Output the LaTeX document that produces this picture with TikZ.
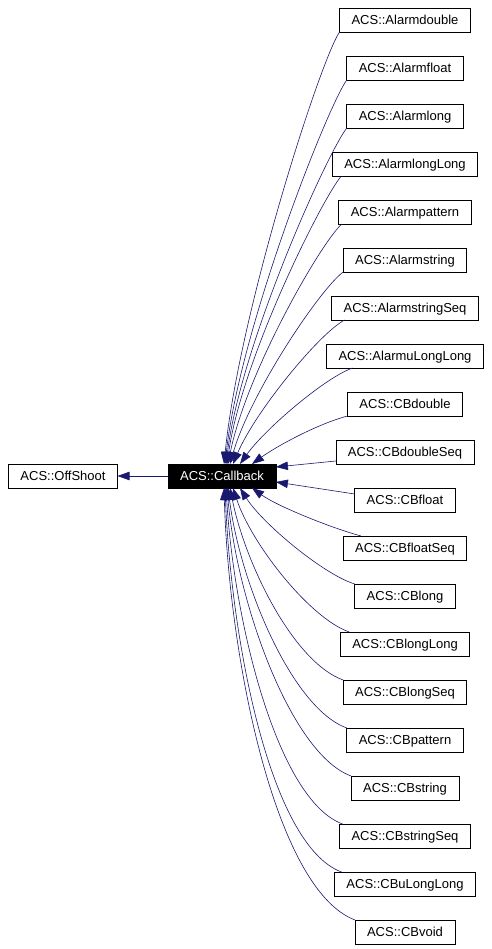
\documentclass[tikz,border=0pt]{standalone}
\usepackage{fontspec}
\setmainfont{Liberation Sans}
\usetikzlibrary{positioning, arrows.meta}
\definecolor{edgeblue}{RGB}{25,25,112}

\begin{document}
\begin{tikzpicture}[
                x=1pt, y=1pt,
                node distance=24pt,
                font=\fontsize{13pt}{15pt}\selectfont,
                cls/.style={
                  draw, line width=0.8pt, outer sep=0pt,
                  minimum height=24pt, inner xsep=12pt, inner ysep=0pt,
                  text height=11pt, text depth=1.5pt
                },
                base/.style={cls, fill=black, text=white},
                arrow/.style={draw=edgeblue, line width=0.6pt, -{Triangle[length=12pt,width=8.5pt]}}
              ]
              \useasboundingbox (0,0) rectangle (491,-949);

              \node (OS) [cls] at (63,-476) {ACS::OffShoot};
              \node (CB) [base] at (222,-476) {ACS::Callback};

              \node (AD) [cls] at (405,-20) {ACS::Alarmdouble};
              \node (AF) [cls, below=of AD] {ACS::Alarmfloat};
              \node (AL) [cls, below=of AF] {ACS::Alarmlong};
              \node (ALL) [cls, below=of AL] {ACS::AlarmlongLong};
              \node (AP) [cls, below=of ALL] {ACS::Alarmpattern};
              \node (AS) [cls, below=of AP] {ACS::Alarmstring};
              \node (ASS) [cls, below=of AS] {ACS::AlarmstringSeq};
              \node (AULL) [cls, below=of ASS] {ACS::AlarmuLongLong};
              \node (CD) [cls, below=of AULL] {ACS::CBdouble};
              \node (CDS) [cls, below=of CD] {ACS::CBdoubleSeq};
              \node (CF) [cls, below=of CDS] {ACS::CBfloat};
              \node (CFS) [cls, below=of CF] {ACS::CBfloatSeq};
              \node (CL) [cls, below=of CFS] {ACS::CBlong};
              \node (CLL) [cls, below=of CL] {ACS::CBlongLong};
              \node (CLS) [cls, below=of CLL] {ACS::CBlongSeq};
              \node (CP) [cls, below=of CLS] {ACS::CBpattern};
              \node (CS) [cls, below=of CP] {ACS::CBstring};
              \node (CSS) [cls, below=of CS] {ACS::CBstringSeq};
              \node (CULL) [cls, below=of CSS] {ACS::CBuLongLong};
              \node (CV) [cls, below=of CULL] {ACS::CBvoid};

              % Draw arrows
              \draw[arrow] (CB) -- (OS);

              \draw[arrow] (AD.south west) .. controls +(-20,-30) and +(15,150) .. ([xshift=2pt]CB.north);
              \draw[arrow] (AF.south west) .. controls +(-20,-28) and +(15,135) .. ([xshift=3pt]CB.north);
              \draw[arrow] (AL.south west) .. controls +(-20,-26) and +(15,120) .. ([xshift=4pt]CB.north);
              \draw[arrow] ([xshift=9pt]ALL.south west) .. controls +(-20,-24) and +(15,105) .. ([xshift=5pt]CB.north);
              \draw[arrow] ([xshift=3pt]AP.south west) .. controls +(-22,-20) and +(18,90) .. ([xshift=6pt]CB.north);
              \draw[arrow] (AS.south west) .. controls +(-24,-18) and +(20,70) .. ([xshift=8pt]CB.north);
              \draw[arrow] ([xshift=13pt]ASS.south west) .. controls +(-26,-14) and +(22,52) .. ([xshift=11pt]CB.north);
              \draw[arrow] ([xshift=26pt]AULL.south west) .. controls +(-28,-10) and +(25,35) .. ([xshift=18pt]CB.north);
              \draw[arrow] (CD.south west) .. controls +(-30,-8) and +(25,18) .. ([xshift=30pt]CB.north);
              \draw[arrow] ([yshift=-9pt]CDS.west) -- ([yshift=9pt]CB.east);
              \draw[arrow] ([yshift=6pt]CF.west) -- ([yshift=-6pt]CB.east);
              \draw[arrow] ([xshift=18pt]CFS.north west) .. controls +(-30,8) and +(25,-18) .. ([xshift=30pt]CB.south);
              \draw[arrow] (CL.north west) .. controls +(-32,10) and +(22,-35) .. ([xshift=18pt]CB.south);
              \draw[arrow] ([xshift=9pt]CLL.north west) .. controls +(-40,14) and +(18,-55) .. ([xshift=11pt]CB.south);
              \draw[arrow] (CLS.north west) .. controls +(-50,18) and +(15,-75) .. ([xshift=8pt]CB.south);
              \draw[arrow] (CP.north west) .. controls +(-55,20) and +(12,-95) .. ([xshift=6pt]CB.south);
              \draw[arrow] (CS.north west) .. controls +(-60,22) and +(10,-115) .. ([xshift=5pt]CB.south);
              \draw[arrow] ([xshift=3pt]CSS.north west) .. controls +(-65,24) and +(8,-135) .. ([xshift=4pt]CB.south);
              \draw[arrow] ([xshift=7pt]CULL.north west) .. controls +(-72,27) and +(6,-150) .. ([xshift=3pt]CB.south);
              \draw[arrow] (CV.north west) .. controls +(-80,30) and +(5,-170) .. ([xshift=2pt]CB.south);

            \end{tikzpicture}
\end{document}
